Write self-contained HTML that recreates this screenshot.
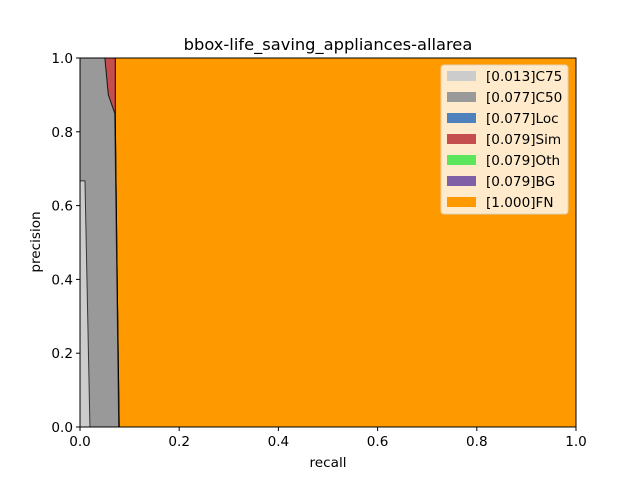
<!DOCTYPE html>
<html><head><meta charset="utf-8"><style>
body{margin:0;background:#fff}
svg text{font-family:"DejaVu Sans","Liberation Sans",sans-serif;fill:#000}
</style></head><body>
<svg id="chart" width="640" height="480" xmlns="http://www.w3.org/2000/svg">
<rect width="640" height="480" fill="#fff"/>
<g id="plot"></g>
<text x="328" y="50" font-size="16.3" text-anchor="middle">bbox-life_saving_appliances-allarea</text>
<text x="328" y="467" font-size="13.6" text-anchor="middle">recall</text>
<text x="40" y="242" font-size="13.6" text-anchor="middle" transform="rotate(-90 40 242)">precision</text>
<g id="ticks"></g>
<g id="legend"></g>
</svg>
<script>
const seriesNames=["FN","BG","Oth","Sim","Loc","C50","C75"];
const seriesAP=["1.000","0.079","0.079","0.079","0.077","0.077","0.013"];
const seriesColors=["#ff9900","#7f5fa6","#5ce65c","#c44e4e","#4f81bd","#999999","#cccccc"];
const recallFN=[0,1];const precFN=[1,1];
const recallBG=[0,0.071,0.071,0.075,0.079];const precBG=[1,1,0.85,0.4,0];
const recallSim=[0,0.071,0.071,0.075,0.079];const precSim=[1,1,0.85,0.4,0];
const recallLoc=[0,0.05,0.057,0.07,0.078];const precLoc=[1,1,0.9,0.85,0];
const recallC50=[0,0.05,0.057,0.07,0.078];const precC50=[1,1,0.9,0.85,0];
const recallC75=[0,0.01,0.02];const precC75=[0.667,0.667,0];
const xTicks=[0,0.2,0.4,0.6,0.8,1.0];const yTicks=[0,0.2,0.4,0.6,0.8,1.0];
const X0=80,X1=576,Y0=427,Y1=58;
const sx=v=>X0+v*(X1-X0), sy=v=>Y0-v*(Y0-Y1);
const NS="http://www.w3.org/2000/svg";
const plot=document.getElementById('plot');
const curves=[[recallFN,precFN],[recallBG,precBG],[recallBG,precBG],[recallSim,precSim],[recallLoc,precLoc],[recallC50,precC50],[recallC75,precC75]];
curves.forEach((c,i)=>{
  const [r,p]=c;
  let pts=r.map((v,k)=>sx(v)+','+sy(p[k]));
  pts.push(sx(r[r.length-1])+','+sy(0));pts.push(sx(0)+','+sy(0));
  const pg=document.createElementNS(NS,'polygon');
  pg.setAttribute('points',pts.join(' '));
  pg.setAttribute('fill',seriesColors[i]);
  
  
  plot.appendChild(pg);
  const pl=document.createElementNS(NS,'polyline');
  pl.setAttribute('points',r.map((v,k)=>sx(v)+','+sy(p[k])).join(' '));
  pl.setAttribute('fill','none');pl.setAttribute('stroke','#000');pl.setAttribute('stroke-width','1');pl.setAttribute('stroke-opacity','0.7');
  
  
  plot.appendChild(pl);
});
const fr=document.createElementNS(NS,'rect');
fr.setAttribute('x',X0);fr.setAttribute('y',Y1);fr.setAttribute('width',X1-X0);fr.setAttribute('height',Y0-Y1);
fr.setAttribute('fill','none');fr.setAttribute('stroke','#000');fr.setAttribute('stroke-width','1');


plot.appendChild(fr);
const tk=document.getElementById('ticks');
xTicks.forEach(v=>{
  const l=document.createElementNS(NS,'line');
  l.setAttribute('x1',sx(v));l.setAttribute('x2',sx(v));l.setAttribute('y1',Y0);l.setAttribute('y2',Y0+4);l.setAttribute('stroke','#000');
  
  
  tk.appendChild(l);
  const t=document.createElementNS(NS,'text');
  t.setAttribute('x',sx(v));t.setAttribute('y',Y0+19);t.setAttribute('font-size','13.6');t.setAttribute('text-anchor','middle');
  t.textContent=v.toFixed(1);
  
  
  tk.appendChild(t);
});
yTicks.forEach(v=>{
  const l=document.createElementNS(NS,'line');
  l.setAttribute('x1',X0-4);l.setAttribute('x2',X0);l.setAttribute('y1',sy(v));l.setAttribute('y2',sy(v));l.setAttribute('stroke','#000');
  
  
  tk.appendChild(l);
  const t=document.createElementNS(NS,'text');
  t.setAttribute('x',X0-7);t.setAttribute('y',sy(v)+5);t.setAttribute('font-size','13.6');t.setAttribute('text-anchor','end');
  t.textContent=v.toFixed(1);
  
  
  tk.appendChild(t);
});
const lg=document.getElementById('legend');
const box=document.createElementNS(NS,'rect');
box.setAttribute('x',441);box.setAttribute('y',65);box.setAttribute('width',127);box.setAttribute('height',149);box.setAttribute('rx',3);
box.setAttribute('fill','#ffebcc');box.setAttribute('stroke','#e0d0b8');


lg.appendChild(box);
const order=[6,5,4,3,2,1,0];
order.forEach((i,k)=>{
  const cy=76+k*21;
  const r=document.createElementNS(NS,'rect');
  r.setAttribute('x',447);r.setAttribute('y',cy-5);r.setAttribute('width',29);r.setAttribute('height',10);r.setAttribute('fill',seriesColors[i]);
  
  
  lg.appendChild(r);
  const t=document.createElementNS(NS,'text');
  t.setAttribute('x',486);t.setAttribute('y',cy+5);t.setAttribute('font-size','13.6');
  t.textContent='['+seriesAP[i]+']'+seriesNames[i];
  
  
  lg.appendChild(t);
});
</script>
</body></html>
